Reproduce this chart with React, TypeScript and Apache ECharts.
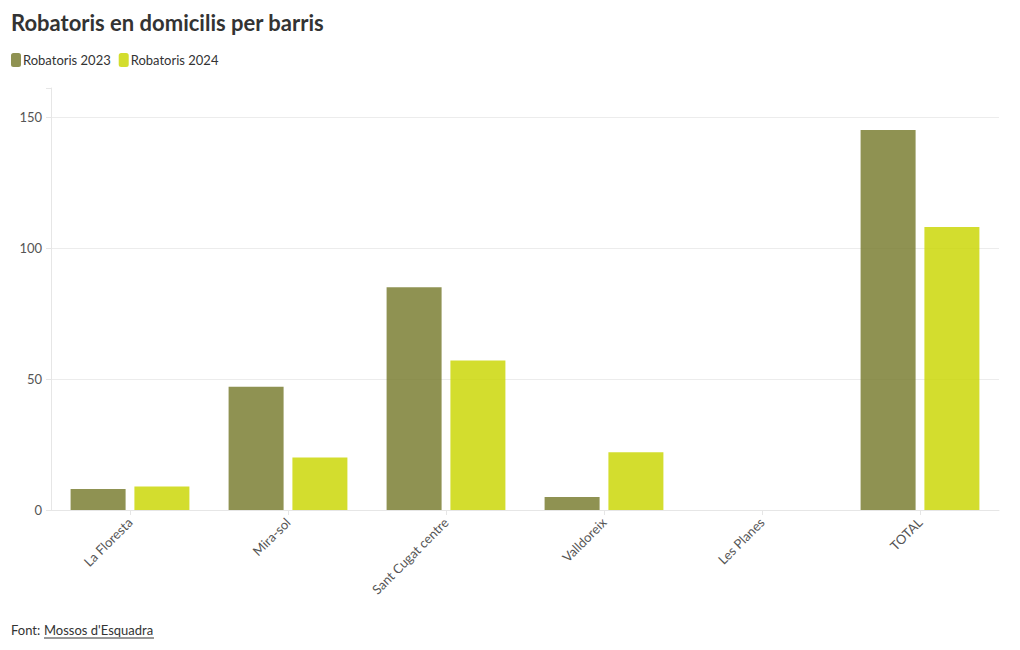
import React, { useEffect, useRef } from "react";
import * as echarts from "echarts";

const categories = ["La Floresta", "Mira-sol", "Sant Cugat centre", "Valldoreix", "Les Planes", "TOTAL"];
const robatoris2023 = [8, 47, 85, 5, 0, 145];
const robatoris2024 = [9, 20, 57, 22, 0, 108];
const seriesNames = ["Robatoris 2023", "Robatoris 2024"];

const FONT = "Lato, 'Open Sans', sans-serif";

export default function App() {
  const ref = useRef<HTMLDivElement>(null);
  useEffect(() => {
    if (!ref.current) return;
    const chart = echarts.init(ref.current, null, { renderer: "svg" });
    chart.setOption({
      animation: false,
      textStyle: { fontFamily: FONT },
      title: {
        text: "Robatoris en domicilis per barris",
        left: 6,
        top: 6,
        textStyle: { fontFamily: FONT, fontSize: 22, fontWeight: "bold", color: "#333333" },
      },
      legend: {
        left: 6,
        top: 48,
        itemWidth: 10,
        itemHeight: 14,
        itemGap: 8,
        icon: "roundRect",
        textStyle: { fontFamily: FONT, fontSize: 13, color: "#333333", padding: [0, 0, 0, -3] },
        data: [
          { name: seriesNames[0], itemStyle: { color: "#7b7f34" } },
          { name: seriesNames[1], itemStyle: { color: "#c9d500" } },
        ],
      },
      grid: { left: 51, right: 21, top: 88, bottom: 140 },
      xAxis: {
        type: "category",
        data: categories,
        axisLine: { show: true, lineStyle: { color: "#e6e6e6" } },
        axisTick: { show: true, alignWithLabel: true, length: 5, lineStyle: { color: "#e6e6e6" } },
        axisLabel: { rotate: 45, margin: 10, fontFamily: FONT, fontSize: 13, color: "#555555", interval: 0 },
      },
      yAxis: {
        type: "value",
        min: 0,
        max: 161,
        interval: 50,
        axisLine: { show: true, lineStyle: { color: "#e6e6e6" } },
        axisTick: { show: true, length: 5, lineStyle: { color: "#e6e6e6" } },
        axisLabel: {
          fontFamily: FONT,
          fontSize: 13,
          color: "#555555",
          margin: 9,
          formatter: (v: number) => (v % 50 === 0 ? String(v) : ""),
        },
        splitLine: { show: true, showMaxLine: false, lineStyle: { color: "#ececec" } },
      },
      series: [
        {
          name: seriesNames[0],
          type: "bar",
          data: robatoris2023,
          barWidth: 55,
          barGap: "16%",
          itemStyle: { color: "#7b7f34", opacity: 0.85 },
        },
        {
          name: seriesNames[1],
          type: "bar",
          data: robatoris2024,
          barWidth: 55,
          barGap: "16%",
          itemStyle: { color: "#c9d500", opacity: 0.82 },
        },
      ],
      graphic: [
        {
          type: "text",
          left: 11,
          top: 623,
          style: { text: "Font: ", fontFamily: FONT, fontSize: 13, fill: "#333333" },
        },
        {
          type: "text",
          left: 44,
          top: 623,
          style: { text: "Mossos d'Esquadra", fontFamily: FONT, fontSize: 13, fill: "#333333" },
        },
        {
          type: "line",
          shape: { x1: 44, y1: 638, x2: 154, y2: 638 },
          style: { stroke: "#333333", lineWidth: 1 },
        },
      ],
    });
    return () => chart.dispose();
  }, []);
  return (
    <div
      ref={ref}
      style={{ position: "fixed", left: 0, top: 0, width: 1020, height: 650, background: "#ffffff" }}
    />
  );
}
